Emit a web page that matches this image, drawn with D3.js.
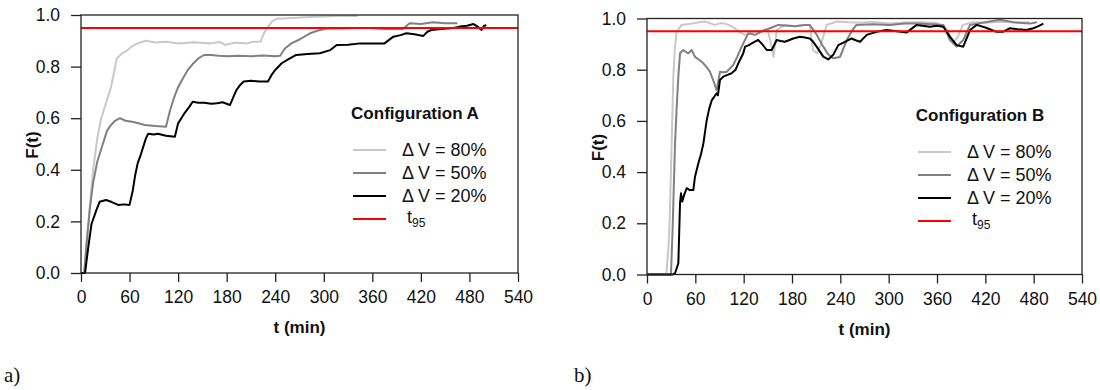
<!DOCTYPE html>
<html>
<head>
<meta charset="utf-8">
<script src="https://cdn.jsdelivr.net/npm/d3@7"></script>
<style>
  body { margin: 0; background: #fff; }
  svg text { font-family: "Liberation Sans", Arial, sans-serif; fill: #111; }
</style>
</head>
<body>
<script>
// tick values shared by both panels
var xTicks = [0, 60, 120, 180, 240, 300, 360, 420, 480, 540];
var yTicks = [0, 0.2, 0.4, 0.6, 0.8, 1.0];
var t95 = 0.95;
var seriesNames = ["\u0394 V = 80%", "\u0394 V = 50%", "\u0394 V = 20%"];
var seriesColors = ["#c8c8c8", "#808080", "#000000"];

// Configuration A  [t (min), F(t)]
var a80 = [[0,0],[4,0],[8,0.15],[12,0.3],[15,0.4],[20,0.52],[25,0.6],[31,0.66],[37,0.72],[41,0.78],[44,0.83],[50,0.85],[56,0.86],[62,0.877],[70,0.89],[80,0.9],[92,0.893],[105,0.896],[120,0.89],[140,0.894],[160,0.89],[172,0.895],[178,0.884],[190,0.893],[205,0.89],[213,0.896],[222,0.897],[226,0.93],[230,0.948],[236,0.975],[242,0.985],[256,0.987],[272,0.99],[290,0.993],[310,0.995],[325,0.997],[342,0.996]];
var a50 = [[0,0],[4,0],[7,0.12],[11,0.25],[15,0.35],[20,0.43],[27,0.5],[32,0.55],[36,0.57],[42,0.59],[48,0.6],[55,0.59],[65,0.585],[79,0.574],[92,0.57],[105,0.567],[110,0.63],[115,0.68],[120,0.72],[126,0.755],[132,0.787],[138,0.81],[145,0.832],[152,0.845],[161,0.845],[170,0.842],[182,0.84],[195,0.842],[210,0.84],[225,0.843],[240,0.84],[246,0.842],[252,0.87],[260,0.89],[270,0.905],[283,0.929],[293,0.94],[304,0.948],[320,0.948],[340,0.95],[357,0.95],[375,0.946],[398,0.946],[406,0.968],[420,0.965],[435,0.972],[450,0.968],[465,0.968]];
var a20 = [[0,0],[5,0],[9,0.1],[13,0.19],[19,0.244],[23,0.276],[31,0.283],[38,0.275],[46,0.264],[53,0.266],[60,0.264],[64,0.32],[67,0.38],[70,0.425],[74,0.46],[77,0.49],[80,0.52],[83,0.54],[90,0.537],[95,0.54],[105,0.532],[116,0.528],[120,0.58],[124,0.6],[128,0.62],[134,0.645],[138,0.664],[145,0.66],[152,0.66],[161,0.656],[168,0.658],[175,0.662],[184,0.651],[188,0.68],[192,0.709],[197,0.73],[201,0.742],[210,0.745],[220,0.742],[231,0.742],[236,0.77],[240,0.787],[248,0.813],[257,0.83],[266,0.845],[280,0.849],[295,0.852],[308,0.864],[316,0.884],[330,0.885],[345,0.89],[360,0.89],[375,0.89],[386,0.916],[395,0.922],[402,0.929],[412,0.925],[423,0.919],[428,0.935],[433,0.942],[442,0.945],[452,0.948],[460,0.95],[468,0.955],[477,0.958],[485,0.965],[490,0.955],[495,0.942],[498,0.958],[501,0.96]];

// Configuration B  [t (min), F(t)]
var b80 = [[0,0],[24,0],[27,0.12],[28.5,0.252],[30.6,0.51],[32.7,0.773],[34.5,0.88],[36.8,0.948],[43,0.975],[55,0.98],[65,0.985],[72,0.988],[78,0.982],[84,0.975],[91,0.982],[97,0.98],[103,0.972],[109,0.962],[116,0.945],[122,0.936],[128,0.942],[134,0.948],[142,0.952],[150,0.955],[154,0.9],[157,0.85],[159,0.9],[161,0.955],[171,0.975],[184,0.97],[195,0.975],[202,0.975],[206,0.877],[211,0.864],[216,0.9],[223,0.975],[236,0.988],[250,0.985],[265,0.983],[280,0.986],[302,0.98],[320,0.984],[340,0.985],[360,0.982],[372,0.96],[380,0.903],[386,0.93],[392,0.975],[405,0.985],[420,0.983],[440,0.987],[458,0.984],[475,0.985]];
var b50 = [[0,0],[29.8,0],[32,0.2],[34.8,0.512],[36.8,0.65],[38.9,0.773],[41,0.864],[45,0.877],[48,0.87],[51.3,0.864],[55.5,0.877],[59.6,0.85],[65,0.838],[70,0.825],[74,0.81],[78.2,0.792],[82,0.76],[86.5,0.72],[90.6,0.792],[95,0.79],[99,0.792],[107,0.818],[112,0.85],[117.5,0.89],[125.8,0.942],[134,0.936],[146.5,0.955],[155,0.965],[163,0.975],[175,0.972],[184,0.97],[195,0.975],[202,0.975],[210,0.94],[218.8,0.89],[225,0.86],[231,0.845],[239.6,0.85],[248,0.916],[255,0.955],[260,0.975],[280,0.978],[301.6,0.975],[320,0.98],[334.8,0.98],[355,0.978],[368,0.975],[376,0.916],[384.4,0.89],[392.6,0.916],[401,0.975],[420,0.985],[438,0.995],[455,0.985],[475,0.98],[484,0.985]];
var b20 = [[0,0],[32,0],[34.8,0.005],[38.9,0.044],[41,0.278],[42.2,0.317],[43.8,0.285],[46,0.31],[49.3,0.337],[53,0.33],[57.5,0.33],[59.6,0.382],[63.7,0.434],[67,0.47],[70,0.512],[74,0.6],[77,0.645],[80.3,0.68],[86.5,0.708],[88,0.7],[90.6,0.76],[94.7,0.773],[100,0.78],[105,0.786],[110,0.8],[113.4,0.825],[119.5,0.864],[121.7,0.89],[126,0.895],[130,0.903],[134,0.91],[138,0.916],[143,0.9],[148.6,0.877],[154.8,0.877],[161,0.916],[166,0.912],[171.3,0.909],[181.6,0.922],[190,0.929],[196,0.926],[202,0.922],[206,0.91],[210.6,0.89],[218.8,0.851],[225,0.84],[231,0.857],[237.5,0.896],[245.8,0.909],[254,0.922],[259,0.915],[264.5,0.909],[272.8,0.936],[285,0.948],[297.5,0.955],[310,0.95],[322,0.945],[334.8,0.975],[351,0.968],[360,0.972],[367.8,0.968],[376,0.929],[384.4,0.896],[392.6,0.89],[401,0.955],[409.3,0.975],[420,0.965],[434,0.948],[442,0.948],[450.6,0.962],[460,0.958],[471,0.955],[479.5,0.962],[486,0.97],[492,0.98]];

var panels = [
  { id: "a", title: "Configuration A", data: [a80, a50, a20],
    x0: 81, x1: 518, y0: 273, y1: 15, legX: 353, legY: 150, titleX: 415, titleY: 119, letterX: 4 },
  { id: "b", title: "Configuration B", data: [b80, b50, b20],
    x0: 647, x1: 1082, y0: 274.5, y1: 18.5, legX: 918, legY: 152, titleX: 980, titleY: 121, letterX: 574 }
];

var svg = d3.select("body").append("svg")
  .attr("width", 1100)
  .attr("height", 390);

panels.forEach(function(p) {
  var x = d3.scaleLinear().domain([0, 540]).range([p.x0, p.x1]);
  var y = d3.scaleLinear().domain([0, 1]).range([p.y0, p.y1]);
  var g = svg.append("g");

  // x axis
  var xAxis = g.append("g")
    .attr("transform", "translate(0," + p.y0 + ")")
    .call(d3.axisBottom(x).tickValues(xTicks).tickSize(9).tickPadding(9).tickFormat(d3.format("d")));
  // y axis
  var yAxis = g.append("g")
    .attr("transform", "translate(" + p.x0 + ",0)")
    .call(d3.axisLeft(y).tickValues(yTicks).tickSize(10).tickPadding(11).tickFormat(d3.format(".1f")));

  [xAxis, yAxis].forEach(function(ax) {
    ax.select(".domain").remove();
    ax.selectAll("line").attr("stroke", "#222").attr("stroke-width", 1.3);
    ax.selectAll("text").attr("font-size", "17.5px").attr("fill", "#111")
      .attr("font-family", "Liberation Sans, Arial, sans-serif");
  });

  var lineGen = d3.line()
    .x(function(d) { return x(d[0]); })
    .y(function(d) { return y(d[1]); });

  // series, light drawn first
  p.data.forEach(function(s, i) {
    g.append("path")
      .datum(s)
      .attr("fill", "none")
      .attr("stroke", seriesColors[i])
      .attr("stroke-width", 2)
      .attr("stroke-linejoin", "round")
      .attr("d", lineGen);
  });

  // t95 line
  g.append("line")
    .attr("x1", x(0)).attr("x2", x(540))
    .attr("y1", y(t95)).attr("y2", y(t95))
    .attr("stroke", "#ff0000")
    .attr("stroke-width", 2);

  // box
  g.append("rect")
    .attr("x", p.x0).attr("y", p.y1)
    .attr("width", p.x1 - p.x0).attr("height", p.y0 - p.y1)
    .attr("fill", "none")
    .attr("stroke", "#222")
    .attr("stroke-width", 1.3);

  // axis titles
  g.append("text")
    .attr("x", (p.x0 + p.x1) / 2)
    .attr("y", p.y0 + 60)
    .attr("text-anchor", "middle")
    .attr("font-size", "17px")
    .attr("font-weight", "bold")
    .text("t (min)");
  g.append("text")
    .attr("transform", "translate(" + (p.x0 - 43) + "," + ((p.y0 + p.y1) / 2 + 1) + ") rotate(-90)")
    .attr("text-anchor", "middle")
    .attr("font-size", "17px")
    .attr("font-weight", "bold")
    .text("F(t)");

  // legend
  g.append("text")
    .attr("x", p.titleX).attr("y", p.titleY)
    .attr("text-anchor", "middle")
    .attr("font-size", "17px")
    .attr("font-weight", "bold")
    .text(p.title);

  var legColors = seriesColors.concat(["#ff0000"]);
  legColors.forEach(function(c, i) {
    var ly = p.legY + i * 23;
    g.append("line")
      .attr("x1", p.legX).attr("x2", p.legX + 33)
      .attr("y1", ly).attr("y2", ly)
      .attr("stroke", c).attr("stroke-width", 2);
    if (i < 3) {
      g.append("text")
        .attr("x", p.legX + 49).attr("y", ly + 6)
        .attr("font-size", "18px")
        .text(seriesNames[i]);
    } else {
      var tt = g.append("text")
        .attr("x", p.legX + 54).attr("y", ly + 4)
        .attr("font-size", "18px");
      tt.append("tspan").text("t");
      tt.append("tspan").attr("font-size", "12px").attr("dy", 4).text("95");
    }
  });

  // panel letter
  svg.append("text")
    .attr("x", p.letterX).attr("y", 382)
    .style("font-family", "Liberation Serif, serif")
    .attr("font-size", "21px")
    .text(p.id + ")");
});
</script>
</body>
</html>
